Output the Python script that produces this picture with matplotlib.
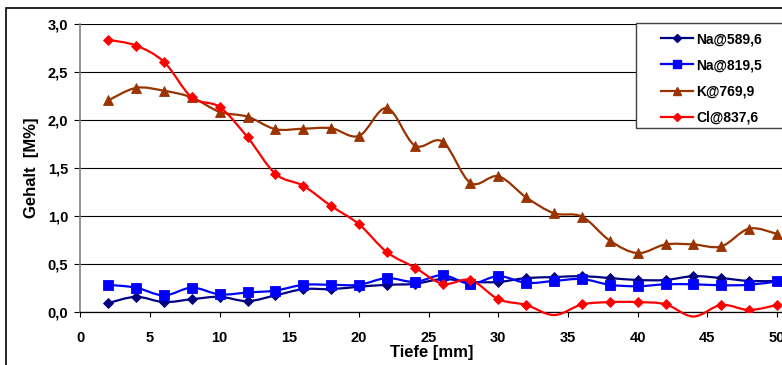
"""Gehalt over Tiefe for Na, K and Cl lines (Excel-style smoothed chart)."""

import numpy as np
import matplotlib

matplotlib.use("Agg")
import matplotlib.pyplot as plt
from matplotlib.lines import Line2D
from matplotlib.patches import PathPatch, Rectangle
from matplotlib.path import Path
from matplotlib.ticker import FuncFormatter, MultipleLocator

plt.rcParams["font.family"] = ["Liberation Sans", "DejaVu Sans"]
plt.rcParams["font.weight"] = "bold"

tiefe = [2, 4, 6, 8, 10, 12, 14, 16, 18, 20, 22, 24, 26,
         28, 30, 32, 34, 36, 38, 40, 42, 44, 46, 48, 50]

na_589 = [0.09, 0.155, 0.10, 0.13, 0.155, 0.11, 0.17, 0.235, 0.235, 0.26, 0.28, 0.29, 0.34,
          0.31, 0.31, 0.35, 0.36, 0.37, 0.35, 0.33, 0.33, 0.37, 0.35, 0.32, 0.32]
na_819 = [0.28, 0.25, 0.17, 0.25, 0.18, 0.20, 0.22, 0.28, 0.28, 0.28, 0.35, 0.31, 0.38,
          0.29, 0.37, 0.30, 0.32, 0.34, 0.28, 0.265, 0.285, 0.285, 0.275, 0.28, 0.315]
k_769 = [2.20, 2.33, 2.30, 2.23, 2.08, 2.03, 1.90, 1.905, 1.91, 1.83, 2.12, 1.73, 1.77,
         1.34, 1.41, 1.19, 1.025, 0.99, 0.74, 0.61, 0.70, 0.70, 0.68, 0.865, 0.81]
cl_837 = [2.83, 2.77, 2.60, 2.23, 2.13, 1.815, 1.435, 1.31, 1.10, 0.91, 0.62, 0.46, 0.29,
          0.33, 0.13, 0.07, -0.035, 0.075, 0.10, 0.10, 0.077, -0.05, 0.07, 0.018, 0.07]

series = [
    ("Na@589,6", na_589, "#000080", "D", 5.0),
    ("Na@819,5", na_819, "#0000FF", "s", 6.5),
    ("K@769,9", k_769, "#993300", "^", 7.0),
    ("Cl@837,6", cl_837, "#FF0000", "D", 5.2),
]


def smooth_path(x, y):
    # Bezier path through the points, like Excel's "smoothed line"
    pts = np.column_stack([x, y]).astype(float)
    n = len(pts)
    verts = [pts[0]]
    codes = [Path.MOVETO]
    for i in range(n - 1):
        p0 = pts[i - 1] if i > 0 else pts[i]
        p1 = pts[i]
        p2 = pts[i + 1]
        p3 = pts[i + 2] if i + 2 < n else pts[i + 1]
        verts += [p1 + (p2 - p0) / 6.0, p2 - (p3 - p1) / 6.0, p2]
        codes += [Path.CURVE4] * 3
    return Path(verts, codes)


def main():
    W, H = 782, 365
    fig = plt.figure(figsize=(W / 100, H / 100), dpi=100)

    # plot area in pixels
    left, right, top, bottom = 80.4, 782.0, 23.5, 311.7
    ax = fig.add_axes([left / W, 1 - bottom / H, (right - left) / W, (bottom - top) / H])

    # chart border (cropped on the right and bottom)
    fig.patches.append(Rectangle((6 / W, -0.1), 1.2, 1 - 8 / H + 0.1, transform=fig.transFigure,
                                 fill=False, edgecolor="black", linewidth=1.2, clip_on=False))

    handles = []
    for label, vals, color, marker, ms in series:
        vals = np.array(vals)
        ax.add_patch(PathPatch(smooth_path(tiefe, vals), facecolor="none", edgecolor=color,
                               linewidth=1.6, clip_on=False, zorder=3))
        shown = np.ma.masked_less(vals, 0)
        ax.plot(tiefe, shown, linestyle="none", marker=marker, markersize=ms,
                color=color, markeredgecolor=color, markeredgewidth=0.6, zorder=4)
        handles.append(Line2D([], [], color=color, marker=marker, markersize=ms * 0.85,
                              linewidth=1.6, label=label))

    ax.set_xlim(0, 50 * (right - left) / (777.0 - left))
    ax.set_ylim(0, 3.0)
    ax.xaxis.set_major_locator(MultipleLocator(5))
    ax.yaxis.set_major_locator(MultipleLocator(0.5))
    ax.yaxis.set_major_formatter(FuncFormatter(lambda v, p: f"{v:.1f}".replace(".", ",")))
    ax.set_xticks(range(0, 51, 5))

    ax.grid(axis="y", color="black", linewidth=0.8)
    ax.set_axisbelow(True)
    for side in ["top", "right"]:
        ax.spines[side].set_visible(False)
    ax.spines["left"].set_color("#808080")
    ax.spines["left"].set_linewidth(1.2)
    ax.spines["bottom"].set_color("black")
    ax.spines["bottom"].set_linewidth(0.9)

    ax.tick_params(axis="y", direction="out", length=4.3, width=0.8, pad=4.5,
                   labelsize=10.5, colors="black")
    ax.tick_params(axis="x", direction="out", length=3.6, width=0.8, pad=10,
                   labelsize=10.5, colors="black")
    for t in ax.get_xticklabels() + ax.get_yticklabels():
        t.set_fontweight("bold")

    ax.set_ylabel("Gehalt  [M%]", fontsize=12, fontweight="bold")
    ax.yaxis.set_label_coords((39 - left) / (right - left), 0.5)
    ax.set_xlabel("Tiefe [mm]", fontsize=12, fontweight="bold")
    ax.xaxis.set_label_coords(0.5, (bottom - 345.5) / (bottom - top))

    # legend box
    fig.patches.append(Rectangle((636 / W, 1 - 128 / H), 0.5, (128 - 23) / H,
                                 transform=fig.transFigure, facecolor="white",
                                 edgecolor="#404040", linewidth=1.0, zorder=5))
    leg = fig.legend(handles=handles, loc="upper left", bbox_to_anchor=(661 / W, 1 - 32 / H),
                     frameon=False, fontsize=10, handlelength=2.3, handletextpad=0.25,
                     labelspacing=0.88, borderpad=0, borderaxespad=0)
    leg.set_zorder(6)
    for t in leg.get_texts():
        t.set_fontweight("bold")

    fig.savefig("out.png", dpi=100)
    plt.close(fig)


if __name__ == "__main__":
    main()
